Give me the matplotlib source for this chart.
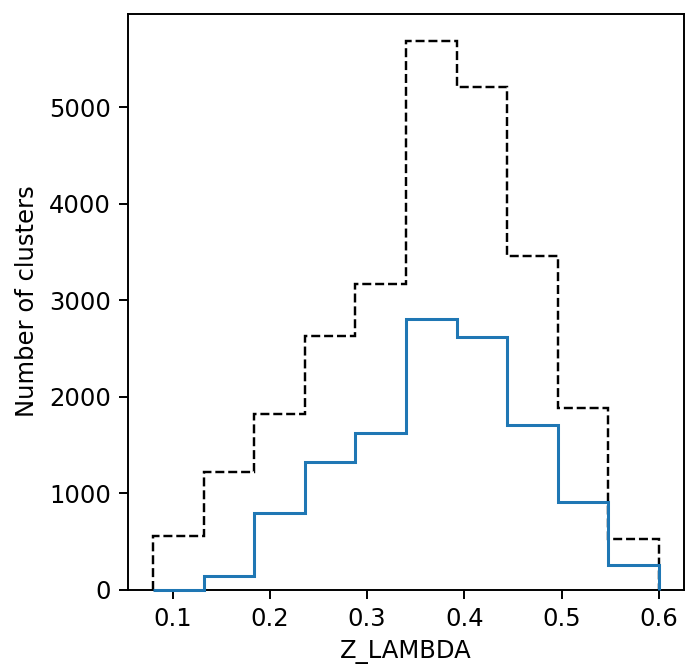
import numpy as np
import matplotlib

matplotlib.use("Agg")
import matplotlib.pyplot as plt

# histogram bin edges in Z_LAMBDA
bin_edges = np.linspace(0.08, 0.60, 11)

# counts per bin
all_counts = [552, 1219, 1817, 2625, 3164, 5685, 5208, 3457, 1876, 528]
sel_counts = [0, 145, 788, 1322, 1623, 2808, 2618, 1710, 908, 252]

centers = 0.5 * (bin_edges[:-1] + bin_edges[1:])

fig = plt.figure(figsize=(689 / 175, 669 / 175), dpi=175)
ax = fig.add_axes([0.1858, 0.1188, 0.8069, 0.861])

ax.hist(centers, bins=bin_edges, weights=all_counts, histtype="step",
        color="black", linestyle="--", linewidth=1.0, zorder=3)
ax.hist(centers, bins=bin_edges, weights=sel_counts, histtype="step",
        color="#1f77b4", linewidth=1.25, zorder=3, clip_on=False)

ax.set_xlabel("Z_LAMBDA")
ax.set_ylabel("Number of clusters")

fig.savefig("out.png", dpi=175)
